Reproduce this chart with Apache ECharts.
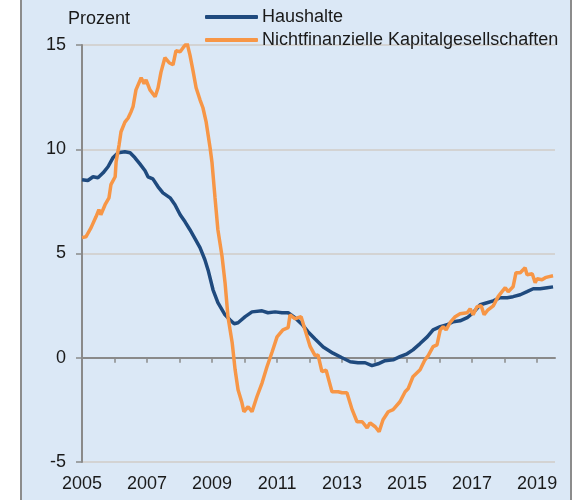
<!DOCTYPE html>
<html>
<head>
<meta charset="utf-8">
<script src="https://cdn.jsdelivr.net/npm/echarts@6/dist/echarts.min.js"></script>
<style>
    body { margin: 0; background: #fff; }
    #bg {
        position: absolute; left: 20px; top: 0; width: 548px; height: 500px;
        background: #dbe8f6;
        border-left: 2px solid #8c8c8c;
        border-right: 2px solid #8c8c8c;
    }
    #main { position: absolute; left: 0; top: 0; width: 574px; height: 500px; }
</style>
</head>
<body>
<div id="bg"></div>
<div id="main"></div>
<script>
// Haushalte (decimal year, Prozent)
var hhYears = [2005.00, 2005.18, 2005.34, 2005.49, 2005.65, 2005.80, 2005.95, 2006.11, 2006.32, 2006.48,
    2006.63, 2006.78, 2006.94, 2007.03, 2007.18, 2007.34, 2007.49, 2007.71, 2007.86, 2008.02,
    2008.17, 2008.32, 2008.48, 2008.63, 2008.78, 2008.88, 2009.03, 2009.18, 2009.40, 2009.55,
    2009.68, 2009.80, 2010.02, 2010.23, 2010.54, 2010.72, 2010.94, 2011.15, 2011.34, 2011.55,
    2011.77, 2011.95, 2012.17, 2012.42, 2012.72, 2013.00, 2013.25, 2013.49, 2013.71, 2013.92,
    2014.11, 2014.32, 2014.57, 2014.78, 2015.00, 2015.18, 2015.40, 2015.62, 2015.80, 2016.02,
    2016.23, 2016.42, 2016.63, 2016.85, 2017.03, 2017.25, 2017.46, 2017.65, 2017.86, 2018.08,
    2018.26, 2018.48, 2018.69, 2018.88, 2019.09, 2019.31, 2019.49]
var hhValues = [8.54, 8.5, 8.68, 8.63, 8.87, 9.16, 9.59, 9.83, 9.88, 9.83,
    9.59, 9.3, 8.97, 8.68, 8.58, 8.2, 7.91, 7.67, 7.34, 6.86,
    6.52, 6.14, 5.7, 5.28, 4.7, 4.2, 3.26, 2.64, 2.06, 1.82,
    1.63, 1.68, 1.97, 2.2, 2.25, 2.16, 2.2, 2.16, 2.16, 1.92,
    1.6, 1.25, 0.9, 0.52, 0.22, 0.0, -0.19, -0.24, -0.24, -0.38,
    -0.29, -0.14, -0.1, 0.05, 0.19, 0.38, 0.68, 1.0, 1.34, 1.49,
    1.58, 1.73, 1.77, 1.92, 2.16, 2.54, 2.64, 2.73, 2.88, 2.88,
    2.93, 3.02, 3.17, 3.31, 3.31, 3.36, 3.4]

// Nichtfinanzielle Kapitalgesellschaften
var nfcYears = [2005.00, 2005.12, 2005.28, 2005.43, 2005.52, 2005.58, 2005.71, 2005.83, 2005.89, 2006.02,
    2006.05, 2006.14, 2006.20, 2006.32, 2006.42, 2006.51, 2006.57, 2006.66, 2006.82, 2006.91,
    2006.97, 2007.09, 2007.25, 2007.34, 2007.43, 2007.55, 2007.68, 2007.80, 2007.89, 2008.02,
    2008.11, 2008.23, 2008.32, 2008.42, 2008.51, 2008.63, 2008.72, 2008.82, 2008.94, 2009.00,
    2009.09, 2009.18, 2009.31, 2009.40, 2009.49, 2009.62, 2009.71, 2009.80, 2009.92, 2009.98,
    2010.11, 2010.23, 2010.38, 2010.54, 2010.69, 2010.85, 2011.00, 2011.18, 2011.34, 2011.40,
    2011.55, 2011.74, 2011.86, 2012.02, 2012.17, 2012.26, 2012.38, 2012.51, 2012.69, 2012.88,
    2013.00, 2013.15, 2013.31, 2013.46, 2013.62, 2013.77, 2013.86, 2014.02, 2014.14, 2014.26,
    2014.42, 2014.57, 2014.78, 2014.94, 2015.03, 2015.18, 2015.40, 2015.55, 2015.65, 2015.80,
    2015.92, 2016.02, 2016.11, 2016.20, 2016.32, 2016.48, 2016.63, 2016.85, 2016.94, 2017.03,
    2017.15, 2017.28, 2017.37, 2017.49, 2017.65, 2017.80, 2017.92, 2018.02, 2018.11, 2018.26,
    2018.35, 2018.48, 2018.63, 2018.69, 2018.85, 2018.94, 2019.00, 2019.15, 2019.25, 2019.34,
    2019.49]
var nfcValues = [5.76, 5.8, 6.24, 6.76, 7.1, 6.86, 7.34, 7.67, 8.3, 8.68,
    9.4, 10.2, 10.84, 11.3, 11.5, 11.8, 12.04, 12.85, 13.43, 13.14,
    13.33, 12.85, 12.52, 12.95, 13.7, 14.39, 14.15, 14.05, 14.72, 14.68,
    14.87, 15.1, 14.53, 13.72, 12.95, 12.37, 11.99, 11.3, 10.07, 9.35,
    7.7, 6.14, 4.84, 3.6, 1.97, 0.72, -0.58, -1.53, -2.16, -2.59,
    -2.35, -2.59, -1.87, -1.2, -0.43, 0.29, 1.0, 1.34, 1.44, 2.06,
    1.87, 1.97, 1.34, 0.53, 0.1, 0.14, -0.67, -0.6, -1.63, -1.63,
    -1.68, -1.68, -2.49, -3.07, -3.07, -3.36, -3.12, -3.31, -3.55, -2.97,
    -2.59, -2.49, -2.11, -1.63, -1.49, -0.91, -0.58, -0.1, 0.1, 0.53,
    0.62, 1.34, 1.49, 1.34, 1.68, 1.97, 2.11, 2.16, 2.35, 2.06,
    2.45, 2.49, 2.06, 2.3, 2.49, 2.93, 3.17, 3.36, 3.17, 3.4,
    4.08, 4.08, 4.32, 3.98, 4.03, 3.6, 3.79, 3.74, 3.84, 3.88,
    3.93]

var tickYears = [2005, 2006, 2007, 2008, 2009, 2010, 2011, 2012, 2013, 2014, 2015, 2016, 2017, 2018, 2019]
var labelYears = [2005, 2007, 2009, 2011, 2013, 2015, 2017, 2019]

function pairs(xs, ys) {
    return xs.map(function (x, i) { return [x, ys[i]] })
}

var textColor = '#1a1a1a'
var axisGray = '#8a8a8a'
var font = 'Liberation Sans, Arial, sans-serif'

var myChart = echarts.init(document.getElementById('main'))
myChart.setOption({
    backgroundColor: 'transparent',
    animation: false,
    textStyle: { fontFamily: font },
    grid: { left: 82, right: 19, top: 45, bottom: 38, containLabel: false },
    legend: {
        orient: 'vertical',
        left: 200,
        top: 1,
        itemGap: 1,
        itemWidth: 53,
        itemHeight: 4,
        icon: 'roundRect',
        textStyle: { fontSize: 18, color: textColor, lineHeight: 22, fontFamily: font, padding: [0, 0, 0, -1] },
        data: ['Haushalte', 'Nichtfinanzielle Kapitalgesellschaften']
    },
    graphic: [{
        type: 'text',
        left: 68,
        top: 10,
        style: { text: 'Prozent', fontSize: 18, fill: textColor, fontFamily: font }
    }],
    xAxis: [
        {
            // bottom axis: labels only
            type: 'value',
            min: 2005,
            max: 2019.55,
            axisLine: { show: false, onZero: false },
            axisTick: { show: false },
            splitLine: { show: false },
            axisLabel: {
                customValues: labelYears,
                formatter: function (v) { return String(v) },
                fontSize: 18,
                color: textColor,
                margin: 13,
                fontFamily: font
            }
        },
        {
            // axis line through zero with yearly ticks
            type: 'value',
            position: 'bottom',
            min: 2005,
            max: 2019.55,
            axisLine: { show: true, onZero: true, lineStyle: { color: axisGray, width: 2 } },
            axisTick: { show: true, customValues: tickYears, length: 5, lineStyle: { color: axisGray, width: 1.5 } },
            axisLabel: { show: false },
            splitLine: { show: false }
        }
    ],
    yAxis: {
        type: 'value',
        min: -5,
        max: 15,
        interval: 5,
        axisLine: { show: true, onZero: false, lineStyle: { color: axisGray, width: 2 } },
        axisTick: { show: true, length: 6, lineStyle: { color: axisGray, width: 1.5 } },
        axisLabel: { fontSize: 18, color: textColor, margin: 16, fontFamily: font },
        splitLine: { show: true, lineStyle: { color: '#d3d3d3', width: 2 } }
    },
    series: [
        {
            name: 'Haushalte',
            type: 'line',
            xAxisIndex: 0,
            showSymbol: false,
            symbol: 'none',
            color: '#1f4a7e',
            lineStyle: { width: 3.5, color: '#1f4a7e' },
            data: pairs(hhYears, hhValues)
        },
        {
            name: 'Nichtfinanzielle Kapitalgesellschaften',
            type: 'line',
            xAxisIndex: 0,
            showSymbol: false,
            symbol: 'none',
            color: '#f79646',
            lineStyle: { width: 3.5, color: '#f79646' },
            data: pairs(nfcYears, nfcValues)
        }
    ]
})
</script>
</body>
</html>
